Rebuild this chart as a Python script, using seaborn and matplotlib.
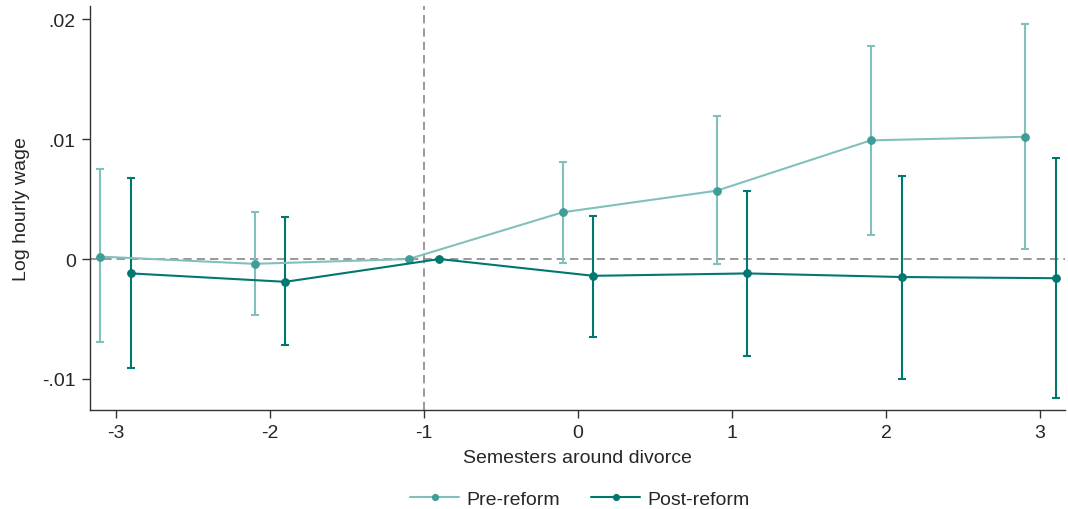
import numpy as np
import pandas as pd
import matplotlib
matplotlib.use("Agg")
import matplotlib.pyplot as plt
import seaborn as sns

# event time (semesters around divorce)
semesters = [-3, -2, -1, 0, 1, 2, 3]

# pre-reform estimates and 95% CI
pre_coef = [0.0002, -0.0004, 0.0, 0.0039, 0.0057, 0.0099, 0.0102]
pre_lo = [-0.0069, -0.0047, 0.0, -0.0003, -0.0004, 0.0020, 0.0008]
pre_hi = [0.0075, 0.0039, 0.0, 0.0081, 0.0119, 0.0178, 0.0196]

# post-reform estimates and 95% CI
post_coef = [-0.0012, -0.0019, 0.0, -0.0014, -0.0012, -0.0015, -0.0016]
post_lo = [-0.0091, -0.0072, 0.0, -0.0065, -0.0081, -0.0100, -0.0116]
post_hi = [0.0068, 0.0035, 0.0, 0.0036, 0.0057, 0.0069, 0.0084]

sns.set_style("white")
plt.rcParams['font.family'] = ['Liberation Sans', 'DejaVu Sans']

pre_df = pd.DataFrame({'x': np.array(semesters) - 0.1, 'coef': pre_coef,
                       'lo': pre_lo, 'hi': pre_hi, 'group': 'Pre-reform'})
post_df = pd.DataFrame({'x': np.array(semesters) + 0.1, 'coef': post_coef,
                        'lo': post_lo, 'hi': post_hi, 'group': 'Post-reform'})

fig = plt.figure(figsize=(10.68, 5.10), dpi=100)
ax = fig.add_axes([0.084, 0.194, 0.913, 0.792])

ax.axhline(0, color='#888888', ls=(0, (5, 3)), lw=1.2, zorder=1)
ax.axvline(-1, color='#888888', ls=(0, (5, 3)), lw=1.2, zorder=1)

styles = [(pre_df, '#82c0bc', '#3f9c96', 1.5),
          (post_df, '#00776f', '#00776f', 1.5)]
for df, lc, mc, lw in styles:
    ax.errorbar(df['x'], df['coef'],
                yerr=[df['coef'] - df['lo'], df['hi'] - df['coef']],
                fmt='none', ecolor=lc, elinewidth=lw, capsize=3, capthick=lw, zorder=2)
    sns.lineplot(data=df, x='x', y='coef', ax=ax, color=lc, lw=lw,
                 marker='o', markersize=5.5, markerfacecolor=mc, markeredgecolor=mc,
                 label=df['group'].iloc[0], zorder=3)

ax.set_xlim(-3.17, 3.16)
ax.set_ylim(-0.0126, 0.0211)
ax.set_xticks(semesters)
ax.set_xticklabels([str(s) for s in semesters])
ax.set_yticks([-0.01, 0, 0.01, 0.02])
ax.set_yticklabels(['-.01', '0', '.01', '.02'])
ax.tick_params(axis='both', direction='out', length=6, width=1, color='#333333',
               labelsize=14, bottom=True, left=True, pad=4)
for s in ['top', 'right']:
    ax.spines[s].set_visible(False)
for s in ['left', 'bottom']:
    ax.spines[s].set_color('#333333')
    ax.spines[s].set_linewidth(1)

ax.set_xlabel('Semesters around divorce', fontsize=14, labelpad=6)
ax.set_ylabel('Log hourly wage', fontsize=14, labelpad=9)

ax.legend(loc='upper center', bbox_to_anchor=(0.503, -0.155), ncol=2, frameon=False,
          fontsize=14, handlelength=2.5, columnspacing=1.6, markerscale=0.8,
          handletextpad=0.4)

fig.savefig('out.png', dpi=100)
